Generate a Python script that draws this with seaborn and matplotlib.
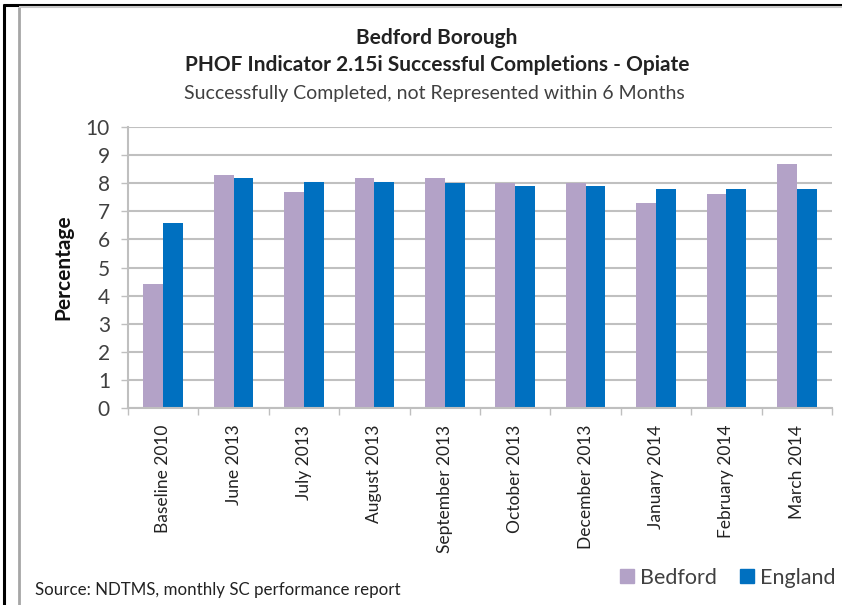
import matplotlib
matplotlib.use("Agg")
import matplotlib.pyplot as plt
import seaborn as sns
import pandas as pd
from matplotlib.lines import Line2D

categories = ["Baseline 2010", "June 2013", "July 2013", "August 2013", "September 2013",
              "October 2013", "December 2013", "January 2014", "February 2014", "March 2014"]
bedford = [4.4, 8.3, 7.7, 8.2, 8.2, 8.0, 8.0, 7.3, 7.6, 8.7]
england = [6.6, 8.2, 8.05, 8.05, 8.0, 7.9, 7.9, 7.8, 7.8, 7.8]
series = ["Bedford", "England"]
colors = ["#B3A2C7", "#0070C0"]
yticks = list(range(0, 11))

df = pd.DataFrame({
    "Month": categories * 2,
    "Series": [series[0]] * len(categories) + [series[1]] * len(categories),
    "Value": bedford + england,
})

sns.set_theme(style="white")
FONT = ["Lato", "DejaVu Sans"]
plt.rcParams["font.family"] = FONT

fig = plt.figure(figsize=(8.42, 6.05), dpi=100)
ax = fig.add_axes([128 / 842, 1 - 408 / 605, (832 - 128) / 842, (408 - 127) / 605])

sns.barplot(data=df, x="Month", y="Value", hue="Series", palette=colors,
            width=0.56, gap=0, saturation=1, ax=ax, legend=False, linewidth=0)

ax.set_ylim(0, 10)
ax.set_xlim(-0.5, len(categories) - 0.5)
ax.set_yticks(yticks)
ax.set_yticklabels([str(t) for t in yticks], fontsize=15, color="#404040")
ax.yaxis.grid(True, color="#C0C0C0", linewidth=1.5)
ax.set_axisbelow(True)
for s in ["top", "right"]:
    ax.spines[s].set_visible(False)
for s in ["left", "bottom"]:
    ax.spines[s].set_color("#BFBFBF")
    ax.spines[s].set_linewidth(1.5)
ax.tick_params(axis="y", left=True, length=5, width=1, color="#BFBFBF", pad=8)
ax.set_xticks(range(len(categories)))
ax.set_xticklabels(categories, rotation=90, fontsize=12.5, color="#222222", va="top", ha="center")
ax.tick_params(axis="x", bottom=False, pad=6)
# minor ticks between categories
ax.set_xticks([i - 0.5 for i in range(len(categories) + 1)], minor=True)
ax.tick_params(axis="x", which="minor", bottom=True, length=5, width=1, color="#BFBFBF")
ax.set_xlabel("")
ax.set_ylabel("Percentage", fontsize=15, fontweight="bold", color="#111111", labelpad=9)

fig.text(437 / 842, 1 - 38 / 605, "Bedford Borough", ha="center", va="center",
         fontsize=15, fontweight="bold", color="#222222")
fig.text(437 / 842, 1 - 65 / 605, "PHOF Indicator 2.15i Successful Completions - Opiate",
         ha="center", va="center", fontsize=15, fontweight="bold", color="#222222")
fig.text(434 / 842, 1 - 93 / 605, "Successfully Completed, not Represented within 6 Months",
         ha="center", va="center", fontsize=14, color="#404040")
fig.text(35 / 842, 1 - 590 / 605, "Source: NDTMS, monthly SC performance report",
         ha="left", va="center", fontsize=12.2, color="#222222")

handles = [Line2D([0], [0], marker="s", linestyle="none", markersize=10,
                  markerfacecolor=c, markeredgecolor=c) for c in colors]
fig.legend(handles, series, loc="center right", bbox_to_anchor=(835 / 842, 1 - 578 / 605),
           ncol=2, frameon=False, fontsize=15.5, handletextpad=0.1, columnspacing=0.9,
           labelcolor="#404040", handlelength=1.0, borderpad=0, borderaxespad=0)

# outer borders
fig.add_artist(Line2D([3.5 / 842, 3.5 / 842], [0, 1 - 4 / 605], color="black", linewidth=2.2,
                      solid_capstyle="butt", transform=fig.transFigure))
fig.add_artist(Line2D([3 / 842, 1], [1 - 5 / 605, 1 - 5 / 605], color="black", linewidth=2.2,
                      solid_capstyle="butt", transform=fig.transFigure))
fig.add_artist(Line2D([19 / 842, 19 / 842], [0, 1 - 7 / 605], color="#A6A6A6", linewidth=2,
                      solid_capstyle="butt", transform=fig.transFigure))
fig.add_artist(Line2D([19 / 842, 1], [1 - 7 / 605, 1 - 7 / 605], color="#C8C8C8", linewidth=1.5,
                      solid_capstyle="butt", transform=fig.transFigure))

fig.savefig("out.png", dpi=100)
